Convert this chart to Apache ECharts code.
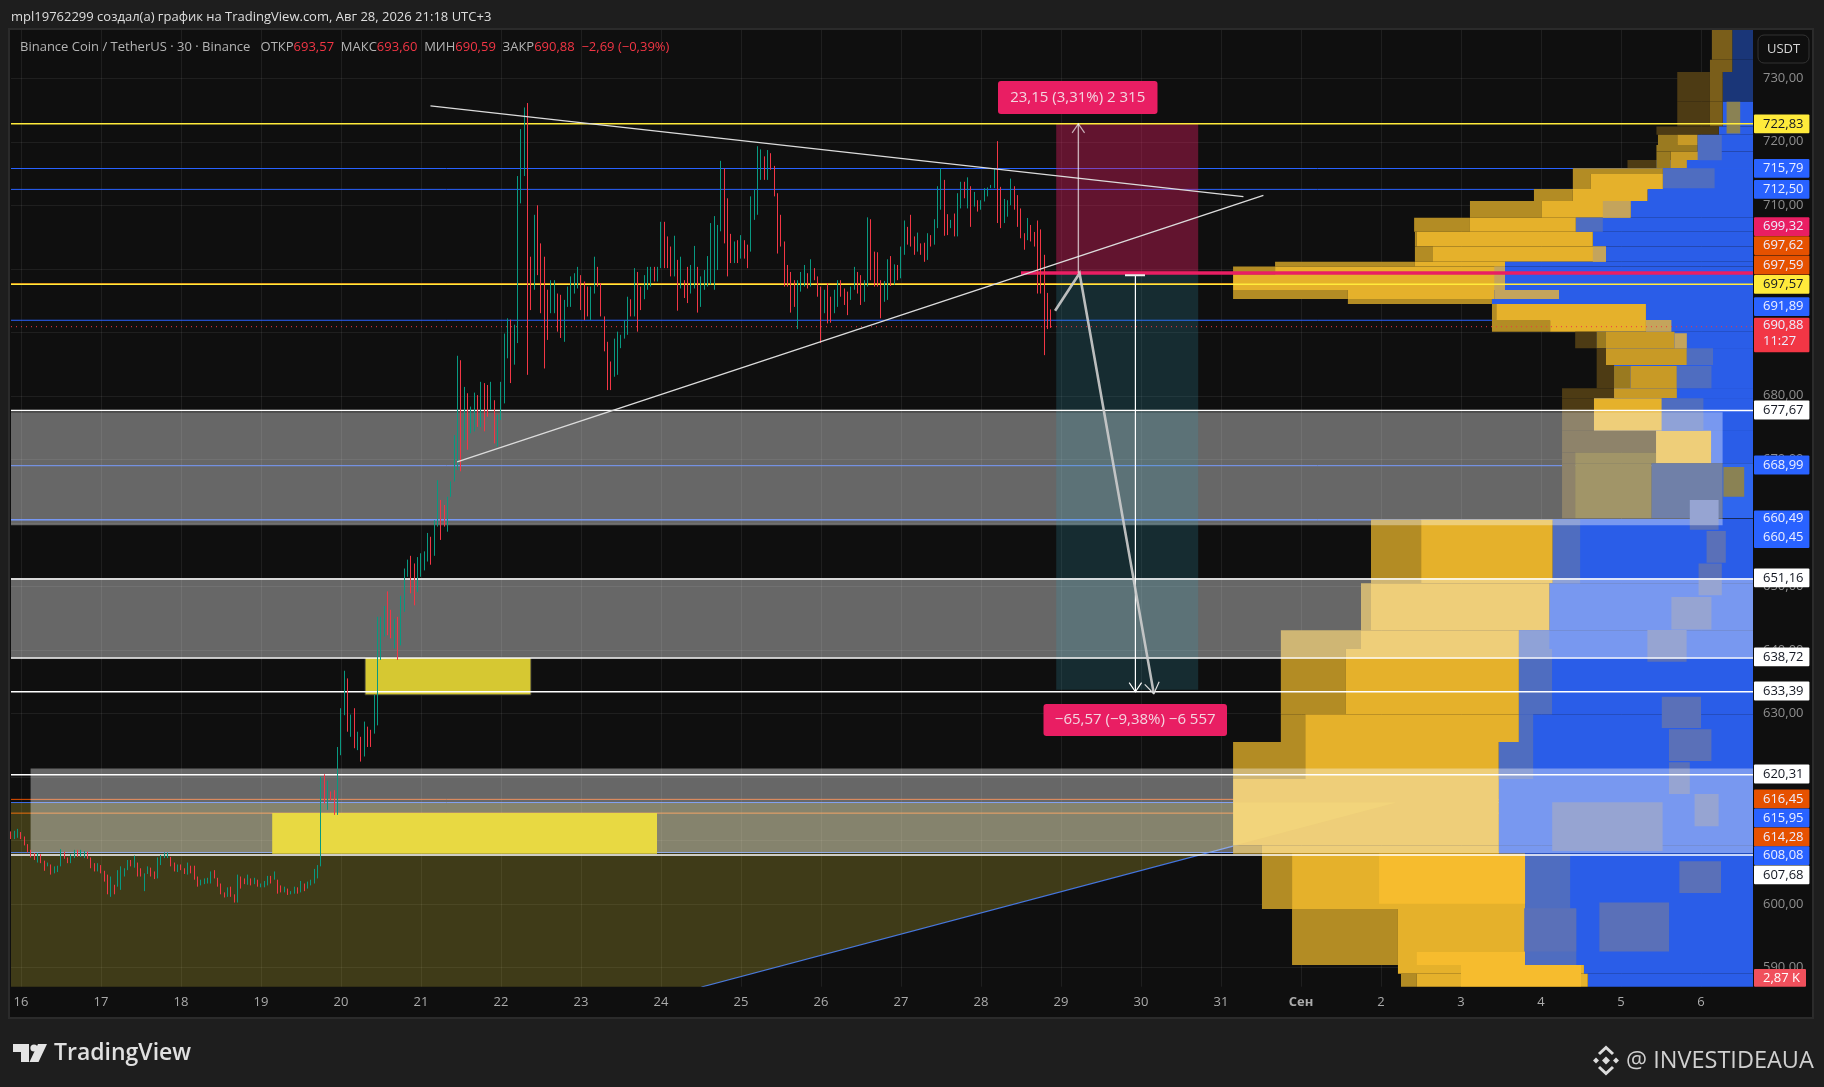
<!DOCTYPE html>
<html><head><meta charset="utf-8">
<script src="https://cdn.jsdelivr.net/npm/echarts@6/dist/echarts.min.js"></script>
<style>html,body{margin:0;padding:0;background:#1e1e1e}#c{width:1824px;height:1087px}</style>
</head><body><div id="c"></div>
<script>
// Axis ticks
const dayTicks=[16,17,18,19,20,21,22,23,24,25,26,27,28,29,30,31,32,33,34,35,36,37];
const dayLabels=['16','17','18','19','20','21','22','23','24','25','26','27','28','29','30','31','Сен','2','3','4','5','6'];
const priceTicks=[590,600,610,620,630,640,650,660,670,680,690,700,710,720,730];
const firstBarDay=15.875, barsPerDay=24, firstOpen=611.0;

// Candles, one value per bar, 10 per line
const highs=[
611.4,611.5,611.8,611.3,610.6,609.4,608.5,608.0,608.0,607.8,
606.8,606.5,606.2,605.9,606.0,608.6,608.2,607.3,607.8,608.5,
608.5,608.5,608.3,608.2,607.3,606.4,606.4,606.1,605.2,604.6,
604.3,603.0,605.3,605.9,605.6,606.9,606.9,607.6,606.5,605.6,
604.8,605.9,605.7,605.1,607.3,607.7,608.1,608.1,607.4,606.5,
606.2,606.2,605.6,606.5,606.0,606.0,604.3,603.8,604.0,604.1,
605.1,605.3,604.1,603.2,601.8,602.6,602.7,601.5,604.6,604.3,
604.0,604.6,604.0,604.1,603.8,603.2,603.6,604.4,604.4,605.1,
603.8,602.9,602.7,602.4,602.0,602.7,602.6,603.6,603.2,603.5,
603.8,605.5,606.1,620.0,620.4,619.4,617.7,617.9,624.7,630.8,
636.7,635.5,629.8,630.8,627.1,626.3,628.7,627.9,627.4,632.9,
645.2,645.2,646.9,649.2,646.3,644.9,645.2,648.5,652.8,654.2,
654.8,653.6,654.6,655.2,655.5,658.4,657.8,660.4,666.7,663.6,
662.8,664.1,666.5,673.8,686.3,685.6,681.4,680.4,678.3,680.5,
680.1,682.2,682.0,681.7,682.2,679.3,677.0,682.2,689.8,692.2,
692.0,691.2,714.6,722.0,725.4,726.1,701.9,708.5,710.0,704.0,
701.9,696.7,698.2,698.2,696.1,695.9,695.1,697.2,698.8,699.3,
700.3,699.0,698.0,697.2,697.2,701.9,700.3,697.7,692.5,688.5,
685.4,689.0,690.1,689.6,691.9,695.6,695.2,700.1,699.5,697.2,
699.0,700.3,700.3,700.3,700.3,707.4,707.4,705.1,703.5,705.2,
701.4,701.9,698.2,700.3,700.6,703.6,700.3,698.8,699.8,702.0,
707.2,708.3,706.9,717.0,715.8,711.1,705.5,704.3,704.5,705.3,
704.5,703.8,711.4,712.5,719.3,718.8,717.7,718.7,718.2,716.2,
711.9,708.5,704.3,700.6,699.5,698.2,698.2,699.5,700.6,699.3,
701.5,700.1,698.8,697.2,696.7,697.7,695.6,696.7,698.2,698.2,
696.9,696.4,697.2,700.3,699.5,699.0,698.2,708.1,707.8,702.7,
702.6,698.2,698.1,701.5,702.0,700.7,700.6,703.5,707.6,706.6,
708.5,705.1,705.7,704.0,704.1,705.6,705.3,707.8,713.0,715.8,
714.0,708.6,707.7,708.7,711.9,713.7,713.7,714.4,713.0,712.1,
710.8,710.8,712.7,712.8,713.2,715.8,720.1,712.9,711.0,710.8,
714.2,713.0,711.6,709.5,705.6,708.0,706.9,705.8,707.6,706.2,
702.2,696.2,693.6];
const lows=[
610.2,610.2,610.4,610.2,609.2,608.1,607.3,606.9,606.5,606.4,
605.2,605.9,604.6,604.8,605.0,605.9,607.1,606.4,606.4,607.2,
607.4,607.4,607.2,607.1,605.6,605.1,605.1,604.8,603.5,601.5,
601.1,601.5,602.7,602.2,604.3,605.3,605.9,605.7,604.3,604.3,
602.0,604.7,604.3,603.9,604.0,606.1,607.2,607.2,605.9,605.1,
605.0,605.3,604.7,604.6,604.8,603.8,602.7,602.9,603.1,603.2,
603.2,604.0,602.7,601.5,601.0,601.1,601.1,600.2,600.2,602.4,
603.1,603.0,602.9,603.1,602.7,602.6,602.6,602.9,603.2,603.8,
601.6,601.8,601.8,601.4,601.5,601.6,601.6,601.8,602.0,602.4,
602.9,603.2,604.0,605.9,615.8,614.8,616.3,614.0,614.0,623.4,
629.7,627.1,626.3,624.5,624.2,622.4,623.2,624.7,624.7,626.8,
628.1,638.4,642.1,642.3,641.8,640.2,638.4,640.7,646.0,651.5,
648.9,647.0,649.1,651.5,652.5,653.9,653.4,654.8,659.4,657.3,
659.4,658.6,664.1,666.5,668.3,668.1,673.0,671.5,674.1,674.4,
675.1,675.1,674.4,676.7,677.8,672.5,672.0,676.2,678.8,685.9,
682.0,684.9,688.3,710.3,714.6,683.3,693.5,696.7,699.0,693.0,
684.3,688.8,693.0,693.0,690.1,689.1,688.5,694.0,694.0,696.1,
696.9,693.5,691.9,692.5,691.9,696.1,697.2,692.5,687.0,680.9,
680.9,683.0,683.3,687.5,689.0,689.6,692.5,692.5,690.1,693.5,
695.2,696.7,697.2,698.0,698.0,700.1,700.1,700.1,698.8,698.8,
693.4,696.9,695.4,694.6,696.1,696.9,693.1,694.0,696.7,697.2,
697.5,696.7,699.8,705.9,704.0,698.8,700.9,700.9,700.9,701.6,
701.6,700.1,702.7,707.7,708.5,714.0,714.0,714.0,715.6,711.4,
702.4,703.5,697.2,697.2,693.1,694.0,690.5,696.4,697.2,696.9,
697.2,698.2,695.6,688.3,693.0,691.4,691.5,693.0,694.0,695.6,
694.3,692.7,695.1,696.7,696.1,694.3,694.8,697.2,698.2,697.2,
697.2,692.2,694.8,695.1,697.3,697.5,698.2,698.5,702.2,703.8,
703.5,702.2,702.7,702.2,701.1,701.4,703.5,703.8,706.4,709.3,
705.2,705.3,706.4,705.1,705.1,709.5,711.1,709.5,706.6,709.8,
709.0,709.3,710.6,711.4,712.7,712.7,707.2,706.4,707.2,708.2,
710.0,709.3,706.6,704.8,703.0,704.5,704.3,703.5,696.1,696.1,
686.4,690.5,690.7];
const closes=[
610.6,611.4,611.6,610.4,609.4,608.3,607.6,607.3,607.8,606.6,
606.0,606.1,605.2,605.5,605.9,607.6,607.3,606.5,607.2,608.3,
607.7,607.8,608.1,607.3,606.1,605.3,606.1,605.1,603.8,601.9,
603.2,602.7,603.8,605.3,605.3,606.4,606.1,606.6,605.3,604.6,
604.6,605.7,604.8,604.3,606.1,607.4,607.6,607.7,606.1,605.7,
605.9,605.6,605.0,605.9,605.1,604.3,603.2,603.5,603.8,603.8,
604.8,604.3,603.2,601.8,601.4,602.2,601.5,600.5,604.0,603.8,
603.2,604.0,603.1,603.8,603.0,603.0,603.2,604.3,603.8,604.0,
602.7,602.2,602.4,601.8,601.9,602.4,602.2,603.0,602.4,603.0,
603.4,605.3,605.9,619.5,616.3,617.4,616.9,615.0,624.2,630.3,
635.5,627.4,627.9,624.7,625.8,624.2,627.4,626.8,626.6,631.3,
642.6,644.7,644.7,643.1,642.3,642.3,641.0,644.7,652.6,653.9,
653.6,649.4,652.6,653.6,654.9,658.3,656.8,659.9,663.6,660.4,
659.9,661.5,665.7,673.0,678.3,677.8,680.1,676.2,677.8,679.9,
676.7,679.3,678.8,677.2,679.3,674.1,675.1,679.3,685.1,689.8,
688.3,688.8,712.4,718.7,724.0,696.7,696.1,700.9,700.6,697.7,
696.7,692.5,695.6,696.1,691.4,690.9,694.0,696.7,697.2,697.7,
699.0,696.7,695.1,694.0,696.1,699.8,697.7,692.5,688.5,684.6,
683.0,686.7,689.0,689.0,691.4,694.0,693.5,698.2,697.2,696.1,
697.2,698.2,699.5,699.3,700.1,703.5,703.0,701.9,700.3,700.3,
697.2,698.2,697.2,696.1,698.2,698.8,695.1,696.7,698.8,701.4,
704.0,704.0,706.1,715.6,712.4,704.5,702.5,703.5,702.5,704.5,
703.2,702.7,707.7,711.4,716.1,717.7,715.8,718.2,716.1,711.9,
706.1,704.3,699.8,698.8,697.2,694.6,696.7,698.2,699.3,698.0,
700.6,698.8,697.2,693.0,696.1,695.6,694.0,694.8,697.2,696.7,
695.6,695.1,696.7,699.5,698.2,697.2,697.2,706.6,702.7,698.8,
698.2,695.1,697.2,699.8,698.2,699.8,699.3,702.2,706.1,705.6,
704.8,703.8,704.0,703.5,701.9,704.5,703.9,706.4,712.1,714.0,
707.7,706.4,707.4,706.6,709.3,713.2,711.9,713.0,710.0,710.8,
709.5,710.6,712.1,712.4,712.7,715.3,712.5,708.7,710.0,710.0,
713.0,711.4,709.0,705.6,704.5,706.9,705.8,704.5,702.4,702.2,
696.1,694.6,690.9];

// Volume profile rows
const rowHi=[737.6,732.9,731.0,726.3,722.4,721.1,719.5,718.45,717.13,717.13,715.82,714.93,712.57,710.68,708.05,705.85,703.49,701.12,700.34,699.02,696.66,695.25,694.46,691.94,690.1,690.1,687.48,687.48,684.85,684.7,681.18,681.18,679.6,679.6,674.51,671.05,674.51,669.37,660.52,650.5,643.07,640.12,629.86,625.47,619.67,609.23,607.87,599.2,590.36,589.0];
const rowLo=[732.9,731.0,726.3,722.4,721.1,719.5,718.45,717.13,715.82,715.82,714.93,712.57,710.68,708.05,705.85,703.49,701.12,700.34,699.02,696.66,695.25,694.46,691.94,690.1,687.48,687.48,684.85,684.85,681.18,681.18,679.6,679.6,674.51,674.51,671.05,669.37,669.37,660.71,650.5,643.07,640.12,629.86,625.47,619.67,609.23,607.87,599.2,590.36,589.0,586.9];
const rowDark=[37.136,37.112,36.703,36.703,36.443,36.462,36.443,36.443,36.081,36.443,35.398,35.398,34.912,34.112,33.414,33.424,33.424,31.676,31.151,31.151,31.151,32.586,34.387,34.387,35.427,35.696,35.696,35.812,35.696,35.913,35.263,35.913,35.263,35.662,35.263,35.263,36.438,35.263,32.875,32.75,31.748,31.748,31.748,31.151,31.151,31.151,31.512,31.888,33.212,33.25];
const rowMid=[37.136,37.112,37.112,37.112,37.222,36.703,36.958,36.621,36.443,36.621,36.524,35.624,35.398,35.012,34.112,33.448,33.65,33.424,31.676,31.151,32.586,34.387,34.44,35.114,35.696,35.812,35.812,35.812,35.913,36.12,35.913,35.913,35.662,35.662,36.438,35.427,36.438,35.427,33.501,32.875,32.75,32.562,32.052,32.052,31.151,31.512,31.888,33.212,33.212,33.448];
const rowBlue=[37.391,37.391,37.271,37.271,37.222,36.958,36.958,37.006,36.443,36.823,36.524,36.524,36.332,36.12,35.436,35.648,35.812,34.55,34.55,34.536,34.416,34.387,36.312,36.312,35.696,36.669,35.812,36.823,35.913,36.698,35.913,36.698,35.662,36.51,36.438,36.438,37.126,36.38,35.147,35.104,34.724,34.724,34.724,34.473,34.473,34.473,34.801,34.801,35.537,35.585];
const rowTone=['a','a','a','b','b','c','c','c','b','c','n','n','n','n','n','n','n','n','n','n','n','n','n','n','b','c','b','c','b','c','b','c','b','n','b','d','n','d','n','n','n','n','n','n','n','n','n','n','n','n'];

// Volume profile overlaid pieces
const patchHi=[660.52,643.07,640.12,629.86,625.47,607.87,599.2,708.05,710.68,696.66,700.34,691.94,689.84,703.49,687.48,684.7,679.6,715.82,721.07,669.37,653.6,648.3,643.1,632.6,627.5,622.3,617.3,606.7,599.3,600.2,658.7,663.6,616,607.87,592.43,590.36,726.3,668.8];
const patchLo=[650.5,640.12,629.86,625.47,619.67,599.2,590.36,705.85,708.05,695.25,696.66,690.1,687.48,701.12,684.85,681.18,674.51,712.7,717.1,660.71,648.6,643.2,638.1,627.7,622.5,617.3,612.2,601.7,592.5,592.5,653.7,658.9,608.3,600,590.36,587,721.3,664.1];
const patchLeft=[35.147,34.724,34.724,34.724,34.473,34.801,34.801,35.436,35.773,34.416,34.416,36.312,36.669,35.648,36.823,36.698,36.51,36.524,36.958,37.27,36.97,36.63,36.33,36.51,36.6,36.6,36.92,36.73,34.79,35.73,37.07,36.86,35.14,32.976,33.448,34.0,37.32,37.28];
const patchRight=[35.489,35.104,35.138,34.902,34.902,35.364,35.441,35.773,36.12,35.225,34.55,36.63,36.823,35.812,37.15,37.131,37.03,37.17,37.26,37.651,37.26,37.13,36.82,37.0,37.13,36.86,37.22,37.25,35.44,36.6,37.31,37.22,36.52,34.801,34.8,35.5,37.49,37.54];
const patchKind=['s','s','s','s','s','s','s','s','t','t','t','t','t','t','s','s','s','s','s','B','g','g','g','g','g','g','g','g','g','g','g','g','g','y','y','y','u','u'];

// Horizontal levels
const underLevels=[715.79,712.50,697.62,697.59,691.89,668.99,660.49,660.45,616.45,615.95,614.28,608.08];
const underKinds=['blue','blue','orange','orange','blue','blue','blue','blue','orange','blue','orange','blue'];
const overLevels=[722.83,697.57,677.67,651.16,638.72,633.39,620.31,607.68];
const overKinds=['yellow','yellow','white','white','white','white','white','white'];
const lastPrice=690.88, entryPrice=699.32, targetPrice=722.83, stopPrice=633.7;

// Zones: grey areas
const zoneHi=[677.4,651.3,621.3];
const zoneLo=[659.6,638.8,608.0];
const zoneFrom=[15.875,15.875,16.12];
const zoneTo=[37.27,37.65,37.65];
// Yellow boxes
const boxHi=[614.3,638.8];
const boxLo=[607.9,632.9];
const boxFrom=[19.14,20.3];
const boxTo=[23.95,22.375];
// Olive triangle-like area
const oliveDays=[15.875,33.19,24.506,15.875];
const olivePrices=[615.95,615.95,586.9,586.9];
// Position tool
const positionFrom=28.94, positionTo=30.715;
// Trend drawings
const trendA=[[21.118,725.66],[31.28,711.37]];
const trendB=[[21.452,669.6],[31.53,711.55]];
const diagonal=[[24.506,586.9],[33.19,615.9]];
const forecast=[[28.926,693.4],[29.232,699.3],[30.16,633.1]];
const arrowUp=[[29.217,699.32],[29.217,722.83]];
const arrowDown=[[29.93,699.0],[29.93,633.4]];
const capLine=[[29.8,699.0],[30.05,699.0]];

// Price tags on the axis
const tagTexts=['722,83','715,79','712,50','699,32','697,62','697,59','697,57','691,89','677,67','668,99','651,16','638,72','633,39','620,31','616,45','615,95','614,28','608,08','607,68'];
const tagCenterY=[123.8,168.3,189.3,226.7,245.7,265,284.3,306.7,410,465,577.9,656.9,691,774,798.8,817.9,837,855.7,874.8];
const tagKinds=['yellow','blue','blue','pink','orange','orange','yellow','blue','white','blue','white','white','white','white','orange','blue','orange','blue','white'];

const C={blue:'#2962FF',orange:'#E65100',yellow:'#FFEB3B',white:'#FFFFFF',pink:'#E91E63',red:'#F23645'};
const TONES={a:['#4d3b14','#7a5e1a','#1a3678'],b:['#4d3b14','#7a5e1a','#2A5DE8'],c:['#9a7a20','#C89A26','#2A5DE8'],n:['#B38C24','#E5B12B','#2A5DE8'],d:['#4d3b14','#6a5710','#1d3675']};
const PATCH={s:'#4f6dc0',t:'#C4A45C',g:'#5a70b8',B:'#2F66EE',y:'#F6BC2E',u:'#8a8254'};
const X0=15.875,X1=37.65,Y0=586.95,Y1=737.6;
const FONT='"Open Sans","Noto Sans",sans-serif';

const opens=closes.map((c,i)=>i?closes[i-1]:firstOpen);
const candles=closes.map((c,i)=>[firstBarDay+i/barsPerDay,opens[i],c,lows[i],highs[i]]);

function rectSeries(items,z){
  return {type:'custom',z,clip:true,silent:true,data:items.map((_,i)=>[i]),encode:{x:-1,y:-1},
    renderItem(p,api){
      const r=items[p.dataIndex],a=api.coord([r[2],r[0]]),b=api.coord([r[3],r[1]]);
      return {type:'rect',shape:{x:a[0],y:a[1],width:b[0]-a[0],height:b[1]-a[1]},style:{fill:r[4],stroke:r[5]||null,lineWidth:r[5]?1:0}};
    }};
}
function pathSeries(items,z){
  return {type:'custom',z,clip:true,silent:true,data:items.map((_,i)=>[i]),encode:{x:-1,y:-1},
    renderItem(p,api){
      const it=items[p.dataIndex],pts=it.pts.map(q=>api.coord(q)),ch=[{type:'polyline',shape:{points:pts},style:{fill:null,stroke:it.color,lineWidth:it.width,lineDash:it.dash||null}}];
      if(it.arrow){
        const n=pts.length,e=pts[n-1],s=pts[n-2],ang=Math.atan2(e[1]-s[1],e[0]-s[0]),L=it.arrow;
        const mk=d=>[e[0]-L*Math.cos(ang+d),e[1]-L*Math.sin(ang+d)];
        ch.push({type:'polyline',shape:{points:[mk(.6),e,mk(-.6)]},style:{fill:null,stroke:it.arrowColor||it.color,lineWidth:1.2}});
      }
      return {type:'group',children:ch};
    }};
}
function polySeries(days,prices,fill,z){
  return {type:'custom',z,clip:true,silent:true,data:[[0]],encode:{x:-1,y:-1},
    renderItem(p,api){return {type:'polygon',shape:{points:days.map((d,i)=>api.coord([d,prices[i]]))},style:{fill}};}};
}

const profileRects=[];
rowHi.forEach((h,i)=>{
  const t=TONES[rowTone[i]],l=rowLo[i];
  profileRects.push([h,l,rowBlue[i],X1,t[2]]);
  if(rowMid[i]>rowDark[i])profileRects.push([h,l,rowDark[i],rowMid[i],t[0]]);
  if(rowBlue[i]>rowMid[i])profileRects.push([h,l,rowMid[i],rowBlue[i],t[1]]);
});
patchHi.forEach((h,i)=>profileRects.push([h,patchLo[i],patchLeft[i],patchRight[i],PATCH[patchKind[i]]]));

const zoneRects=zoneHi.map((h,i)=>[h,zoneLo[i],zoneFrom[i],zoneTo[i],'rgba(255,255,255,0.37)']);
const boxRects=[[boxHi[0],boxLo[0],boxFrom[0],boxTo[0],'#E8D942'],[boxHi[1],boxLo[1],boxFrom[1],boxTo[1],'#D6C832','#333']];
const posRects=[[targetPrice,entryPrice,positionFrom,positionTo,'rgba(233,30,99,0.38)'],[entryPrice,stopPrice,positionFrom,positionTo,'rgba(50,160,185,0.2)']];

const lineW={blue:1,orange:1,yellow:1.5,white:1.5};
const underPaths=underLevels.map((p,i)=>({pts:[[X0,p],[X1,p]],color:C[underKinds[i]],width:lineW[underKinds[i]]}));
underPaths.push({pts:diagonal,color:'#3b6fe8',width:1.2});
const overPaths=overLevels.map((p,i)=>({pts:[[X0,p],[X1,p]],color:C[overKinds[i]],width:lineW[overKinds[i]]}));
overPaths.push({pts:[[X0,lastPrice],[X1,lastPrice]],color:C.red,width:1,dash:[1,4]});
overPaths.push({pts:[[28.5,entryPrice],[X1,entryPrice]],color:C.pink,width:3.5});
const drawPaths=[
 {pts:trendA,color:'#dcdcdc',width:1.4},
 {pts:trendB,color:'#dcdcdc',width:1.4},
 {pts:arrowUp,color:'rgba(255,255,255,.65)',width:1.4,arrow:11},
 {pts:arrowDown,color:'#fff',width:1.2,arrow:11},
 {pts:capLine,color:'#eee',width:2},
 {pts:forecast,color:'rgba(205,205,205,.9)',width:2.6,arrow:13,arrowColor:'#ddd'}
];

// ---- graphic overlay ----
function tag(t,y,kind){
  const fg=kind==='white'||kind==='yellow'?'#131722':'#EDEFFF';
  return [{type:'rect',z:100,shape:{x:1754,y:y-9.4,width:55.4,height:18.8,r:1},style:{fill:C[kind]}},
          {type:'text',z:101,style:{x:1763,y,text:t,fill:fg,font:'13px '+FONT,textVerticalAlign:'middle'}}];
}
const g=[];
g.push({type:'rect',z:-5,shape:{x:9,y:29,width:1804,height:989},style:{fill:'#0f0f0f',stroke:'#2b2b2b',lineWidth:2}});
tagTexts.forEach((t,i)=>g.push(...tag(t,tagCenterY[i],tagKinds[i])));
// tags with two lines
g.push({type:'rect',z:100,shape:{x:1754,y:317.7,width:55.4,height:34.6,r:1},style:{fill:C.red}});
g.push({type:'text',z:101,style:{x:1763,y:325.7,text:'690,88',fill:'#EDEFFF',font:'13px '+FONT,textVerticalAlign:'middle'}});
g.push({type:'text',z:101,style:{x:1763,y:341.7,text:'11:27',fill:'#EDEFFF',font:'13px '+FONT,textVerticalAlign:'middle'}});
g.push({type:'rect',z:100,shape:{x:1754,y:510.5,width:55.4,height:37.5,r:1},style:{fill:C.blue}});
g.push({type:'text',z:101,style:{x:1763,y:518.3,text:'660,49',fill:'#EDEFFF',font:'13px '+FONT,textVerticalAlign:'middle'}});
g.push({type:'text',z:101,style:{x:1763,y:537.4,text:'660,45',fill:'#EDEFFF',font:'13px '+FONT,textVerticalAlign:'middle'}});
g.push({type:'rect',z:100,shape:{x:1754,y:969,width:52,height:17.7,r:1},style:{fill:'#F0505C'}});
g.push({type:'text',z:101,style:{x:1763,y:978,text:'2,87 K',fill:'#fff',font:'13px '+FONT,textVerticalAlign:'middle'}});
// currency button
g.push({type:'rect',z:100,shape:{x:1758,y:35,width:51,height:28,r:6},style:{fill:'#0f0f0f',stroke:'#333',lineWidth:1}});
g.push({type:'text',z:101,style:{x:1783.5,y:49,text:'USDT',fill:'#d6d6d6',font:'13px '+FONT,textAlign:'center',textVerticalAlign:'middle'}});
// header and legend
g.push({type:'text',z:101,style:{x:11,y:17,text:'mpl19762299 создал(а) график на TradingView.com, Авг 28, 2026 21:18 UTC+3',fill:'#dedede',font:'13px '+FONT,textVerticalAlign:'middle'}});
g.push({type:'text',z:101,style:{x:20,y:47,
  text:'{g|Binance Coin / TetherUS · 30 · Binance   ОТКР}{r|693,57}{g|  МАКС}{r|693,60}{g|  МИН}{r|690,59}{g|  ЗАКР}{r|690,88}{r|  −2,69 (−0,39%)}',
  textVerticalAlign:'middle',rich:{g:{fill:'#b4b4b4',font:'13px '+FONT},r:{fill:'#F23645',font:'13px '+FONT}}}});
// position labels
g.push({type:'rect',z:100,shape:{x:998,y:81,width:159.5,height:33,r:3},style:{fill:C.pink}});
g.push({type:'text',z:101,style:{x:1077.7,y:97.5,text:'23,15 (3,31%) 2 315',fill:'#f3d5df',font:'15px '+FONT,textAlign:'center',textVerticalAlign:'middle'}});
g.push({type:'rect',z:100,shape:{x:1043.5,y:704,width:183.5,height:32,r:3},style:{fill:C.pink}});
g.push({type:'text',z:101,style:{x:1135.2,y:720,text:'−65,57 (−9,38%) −6 557',fill:'#f3d5df',font:'15px '+FONT,textAlign:'center',textVerticalAlign:'middle'}});
// TradingView mark
g.push({type:'polygon',z:101,shape:{points:[[13,1044],[29,1044],[29,1062],[21,1062],[21,1052],[13,1052]]},style:{fill:'#e4e4e4'}});
g.push({type:'circle',z:101,shape:{cx:34,cy:1048,r:3.6},style:{fill:'#e4e4e4'}});
g.push({type:'polygon',z:101,shape:{points:[[38,1044],[47,1044],[38.5,1062],[29.5,1062]]},style:{fill:'#e4e4e4'}});
g.push({type:'text',z:101,style:{x:54,y:1053,text:'TradingView',fill:'#e0e0e0',font:'600 23px '+FONT,textVerticalAlign:'middle'}});
// Binance mark and signature
function dia(cx,cy,r){return {type:'polygon',z:101,shape:{points:[[cx,cy-r],[cx+r,cy],[cx,cy+r],[cx-r,cy]]},style:{fill:'#dcdcdc'}};}
g.push(dia(1606,1060.5,4),dia(1596,1060.5,3),dia(1616,1060.5,3));
g.push({type:'polyline',z:101,shape:{points:[[1599,1054],[1606,1047.5],[1613,1054]]},style:{fill:null,stroke:'#dcdcdc',lineWidth:3}});
g.push({type:'polyline',z:101,shape:{points:[[1599,1067],[1606,1073.5],[1613,1067]]},style:{fill:null,stroke:'#dcdcdc',lineWidth:3}});
g.push({type:'text',z:101,style:{x:1626,y:1061,text:'@ INVESTIDEAUA',fill:'#d0d0d0',font:'23.5px '+FONT,textVerticalAlign:'middle'}});

const chart=echarts.init(document.getElementById('c'),null,{renderer:'canvas'});
chart.setOption({
  animation:false,backgroundColor:'#1e1e1e',
  grid:{left:11,right:71,top:30,bottom:100.3,containLabel:false},
  xAxis:{type:'value',min:X0,max:X1,
    axisLine:{show:false},
    axisTick:{show:false,customValues:dayTicks},
    axisLabel:{customValues:dayTicks,color:'#ababab',fontSize:13,fontFamily:'"Open Sans"',margin:9,hideOverlap:false,showMinLabel:true,showMaxLabel:true,
      formatter:v=>{const i=dayTicks.indexOf(v),s=dayLabels[i];return s==='Сен'?'{b|Сен}':s;},
      rich:{b:{fontWeight:'bold',color:'#ababab',fontSize:13,fontFamily:'"Open Sans"'}}},
    splitLine:{show:true,lineStyle:{color:'rgba(255,255,255,0.07)',width:1}}},
  yAxis:{type:'value',position:'right',min:Y0,max:Y1,
    axisLine:{show:false},
    axisTick:{show:false,customValues:priceTicks},
    axisLabel:{customValues:priceTicks,color:'#8f8f8f',fontSize:13,fontFamily:'"Open Sans"',margin:10,
      formatter:v=>v.toFixed(2).replace('.',',')},
    splitLine:{show:true,lineStyle:{color:'rgba(255,255,255,0.07)',width:1}}},
  series:[
    pathSeries(underPaths,2),
    rectSeries(profileRects,3),
    polySeries(oliveDays,olivePrices,'rgba(255,235,59,0.2)',4),
    rectSeries(zoneRects,4),
    rectSeries(boxRects,5),
    rectSeries(posRects,5),
    pathSeries(overPaths,6),
    {type:'candlestick',z:7,barWidth:1,clip:true,silent:true,data:candles,encode:{x:0,y:[1,2,3,4]},
      itemStyle:{color:'#089981',color0:'#F23645',borderColor:'#089981',borderColor0:'#F23645',borderWidth:1}},
    pathSeries(drawPaths,8)
  ],
  graphic:{elements:g}
});
</script></body></html>
